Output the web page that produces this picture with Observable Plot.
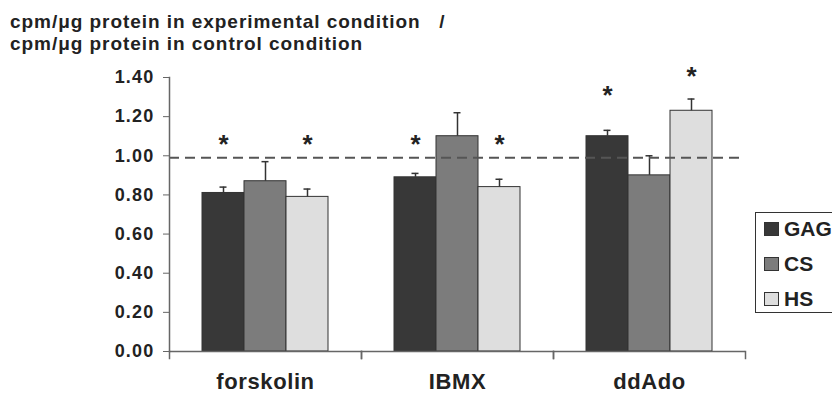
<!DOCTYPE html>
<html>
<head>
<meta charset="utf-8">
<script src="https://cdn.jsdelivr.net/npm/d3@7"></script>
<script src="https://cdn.jsdelivr.net/npm/@observablehq/plot@0.6"></script>
<style>
  html, body { margin: 0; padding: 0; background: #fff; }
  #wrap { position: relative; width: 832px; height: 396px; overflow: hidden; font-family: "Liberation Sans", Arial, sans-serif; font-weight: bold; color: #222; }
  #title { position: absolute; left: 10px; top: 11px; font-size: 19px; line-height: 22px; white-space: pre; letter-spacing: 0.95px; }
  #legend { position: absolute; left: 755px; top: 212px; width: 120px; height: 101px; border: 1px solid #333; box-sizing: border-box; }
  .item { position: absolute; left: 8px; height: 24px; display: flex; align-items: center; font-size: 21px; }
  .sw { width: 13px; height: 12px; border: 1px solid #333; margin-right: 5px; }
  #chart { position: absolute; left: 0; top: 0; }
  #chart g[aria-label="y-axis tick label"] text { letter-spacing: 1.2px; }
  #chart g[aria-label="fx-axis tick label"] text { letter-spacing: 0.6px; }
</style>
</head>
<body>
<div id="wrap">
  <div id="chart"></div>
  <div id="title"></div>
  <div id="legend"></div>
</div>
<script>
// ---- data ----
const categories = ["forskolin", "IBMX", "ddAdo"];
const series = ["GAG", "CS", "HS"];
const seriesColors = ["#383838", "#7c7c7c", "#dedede"];
// one array per series, in category order
const gagValues = [0.81, 0.89, 1.10];
const csValues  = [0.87, 1.10, 0.90];
const hsValues  = [0.79, 0.84, 1.23];
const gagErrors = [0.03, 0.02, 0.03];
const csErrors  = [0.10, 0.12, 0.10];
const hsErrors  = [0.04, 0.04, 0.06];
const referenceLine = 0.99;
const yTicks = [0, 0.2, 0.4, 0.6, 0.8, 1.0, 1.2, 1.4];
// significance stars
const starCategories = ["forskolin", "forskolin", "IBMX", "IBMX", "ddAdo", "ddAdo"];
const starSeries     = ["GAG", "HS", "GAG", "HS", "GAG", "HS"];
const starY          = [1.07, 1.07, 1.07, 1.07, 1.32, 1.42];
const titleLines = ["cpm/\u03bcg protein in experimental condition   /", "cpm/\u03bcg protein in control condition"];

// ---- build table ----
const valueSets = [gagValues, csValues, hsValues];
const errorSets = [gagErrors, csErrors, hsErrors];
const rows = [];
categories.forEach((c, i) => series.forEach((s, j) => {
  rows.push({cat: c, ser: s, value: valueSets[j][i], top: valueSets[j][i] + errorSets[j][i]});
}));
const stars = starCategories.map((c, i) => ({cat: c, ser: starSeries[i], y: starY[i]}));

const axisColor = "#666";
const chart = Plot.plot({
  width: 832,
  height: 396,
  marginLeft: 168,
  marginRight: 86,
  marginTop: 77,
  marginBottom: 45,
  style: {fontFamily: "Liberation Sans, Arial, sans-serif", fontWeight: "bold", color: "#222", background: "transparent"},
  fx: {domain: categories, padding: 0, label: null},
  x: {domain: series, paddingInner: 0, paddingOuter: 0.744, axis: null},
  y: {domain: [0, 1.4], axis: null},
  color: {domain: series, range: seriesColors},
  marks: [
    Plot.barY(rows, {fx: "cat", x: "ser", y: "value", fill: "ser", stroke: "#333", strokeWidth: 1}),
    Plot.ruleX(rows, {fx: "cat", x: "ser", y1: "value", y2: "top", stroke: "#333", strokeWidth: 1.5}),
    Plot.tickY(rows, {fx: "cat", x: "ser", y: "top", stroke: "#333", strokeWidth: 1.5, insetLeft: 17.5, insetRight: 17.5}),
    Plot.ruleY([referenceLine], {stroke: "#555", strokeWidth: 2, strokeDasharray: "10,6"}),
    Plot.ruleY([0], {stroke: axisColor, strokeWidth: 1.5}),
    Plot.frame({anchor: "left", stroke: axisColor, strokeWidth: 1.5, insetTop: 274, insetBottom: -7}),
    Plot.frame({anchor: "right", stroke: axisColor, strokeWidth: 1.5, insetTop: 274, insetBottom: -7}),
    Plot.frame({anchor: "left", fx: [categories[0]], stroke: axisColor, strokeWidth: 1.5}),
    Plot.axisY({ticks: yTicks, tickFormat: d3.format(".2f"), tickSize: 6, tickPadding: 9, fontSize: 18, stroke: axisColor, fill: "#222", label: null}),
    Plot.axisFx({anchor: "bottom", tickSize: 0, tickPadding: 22, fontSize: 22, label: null, fill: "#222"}),
    Plot.text(stars, {fx: "cat", x: "ser", y: "y", text: () => "*", fontSize: 26, fill: "#222", dy: 3})
  ]
});
document.getElementById("chart").appendChild(chart);

document.getElementById("title").textContent = titleLines.join("\n");
const legend = document.getElementById("legend");
series.forEach((s, i) => {
  const item = document.createElement("div");
  item.className = "item";
  item.style.top = (4 + i * 35) + "px";
  const sw = document.createElement("div");
  sw.className = "sw";
  sw.style.background = seriesColors[i];
  item.appendChild(sw);
  item.appendChild(document.createTextNode(s));
  legend.appendChild(item);
});
</script>
</body>
</html>
